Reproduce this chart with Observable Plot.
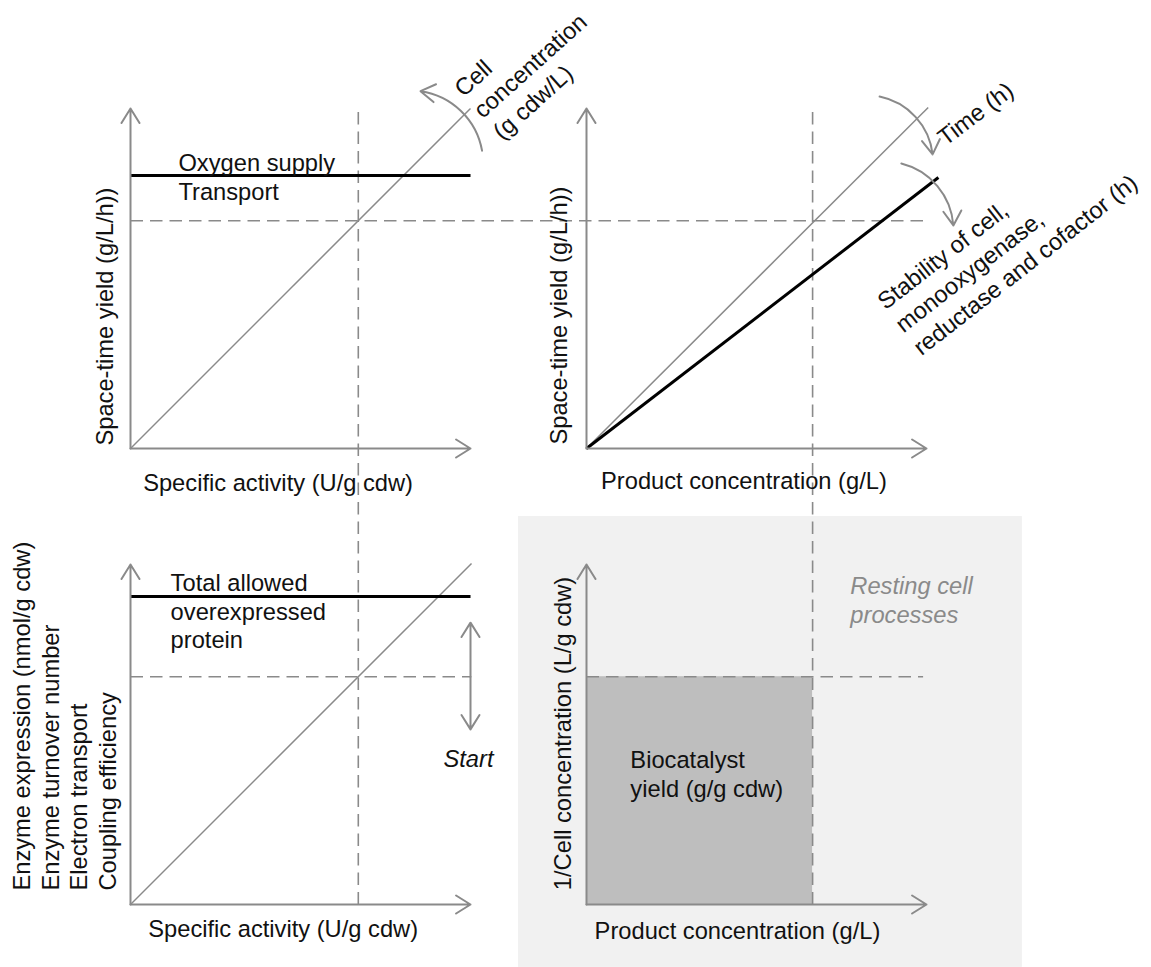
<!DOCTYPE html>
<html>
<head>
<meta charset="utf-8">
<script src="https://cdn.jsdelivr.net/npm/d3@7"></script>
<script src="https://cdn.jsdelivr.net/npm/@observablehq/plot@0.6"></script>
<style>
  html, body { margin: 0; padding: 0; background: #fff; }
</style>
</head>
<body>
<div id="chart"></div>
<script>
// ---- panel layout (2 x 2 facets) ----
const columns = ["left", "right"];
const rows = ["top", "bottom"];
const panelCol = {TL: "left", TR: "right", BL: "left", BR: "right"};
const panelRow = {TL: "top", TR: "top", BL: "bottom", BR: "bottom"};
const panels = ["TL", "TR", "BL", "BR"];

// ---- conceptual values (unit axes, 1 = arrow tip) ----
const axisMax = 1;
const operatingY = 0.67;
const operatingX = {TL: 0.67, TR: 0.665, BL: 0.67, BR: 0.665};

// axis arrows of every panel
const axes = panels.flatMap(p => [
  {panel: p, x1: 0, y1: 0, x2: axisMax, y2: 0},
  {panel: p, x1: 0, y1: 0, x2: 0, y2: axisMax}
]);

// thin gray proportional lines
const diagonals = [
  {panel: "TL", x1: 0, y1: 0, x2: 1.0, y2: 1.0},
  {panel: "TR", x1: 0, y1: 0, x2: 1.005, y2: 1.003},
  {panel: "BL", x1: 0, y1: 0, x2: 1.003, y2: 1.003}
];

// thick black limit lines
const limits = [
  {panel: "TL", x1: 0, y1: 0.803, x2: 1.0, y2: 0.803},
  {panel: "TR", x1: 0, y1: 0, x2: 1.035, y2: 0.797},
  {panel: "BL", x1: 0, y1: 0.906, x2: 1.0, y2: 0.906}
];

// dashed guide lines through the operating point
const guides = [
  {panel: "TL", x1: 0, y1: operatingY, x2: 2.344, y2: operatingY},
  {panel: "BL", x1: operatingX.BL, y1: 0, x2: operatingX.BL, y2: 2.35},
  {panel: "BR", x1: operatingX.BR, y1: 0, x2: operatingX.BR, y2: 2.35},
  {panel: "BL", x1: 0, y1: operatingY, x2: 1.0, y2: operatingY},
  {panel: "BR", x1: 0, y1: operatingY, x2: 0.99, y2: operatingY}
];

// curved arrows
const arcsCounterClockwise = [
  {panel: "TL", x1: 1.034, y1: 0.876, x2: 0.853, y2: 1.051}
];
const arcsClockwise = [
  {panel: "TR", x1: 0.862, y1: 1.035, x2: 1.018, y2: 0.865},
  {panel: "TR", x1: 0.926, y1: 0.838, x2: 1.079, y2: 0.656}
];

// double-headed "Start" range arrow
const startRange = [
  {panel: "BL", x1: 1.0, y1: operatingY, x2: 1.0, y2: 0.829},
  {panel: "BL", x1: 1.0, y1: operatingY, x2: 1.0, y2: 0.515}
];

// shaded areas
const restingRegion = [{panel: "BR", x1: -0.2, x2: 1.282, y1: -0.185, y2: 1.141}];
const biocatalystArea = [{panel: "BR", x1: 0, x2: operatingX.BR, y1: 0, y2: operatingY}];

// ---- texts ----
const xLabels = [
  {panel: "TL", text: "Specific activity (U/g cdw)", x: 0.434, y: -0.124},
  {panel: "TR", text: "Product concentration (g/L)", x: 0.463, y: -0.118},
  {panel: "BL", text: "Specific activity (U/g cdw)", x: 0.449, y: -0.097},
  {panel: "BR", text: "Product concentration (g/L)", x: 0.444, y: -0.100}
];
const yLabels = [
  {panel: "TL", text: "Space-time yield (g/L/h))", x: -0.074, y: 0.388},
  {panel: "TR", text: "Space-time yield (g/L/h))", x: -0.079, y: 0.391},
  {panel: "BR", text: "1/Cell concentration (L/g cdw)", x: -0.068, y: 0.503}
];
const yLabelMulti = [
  {panel: "BL", text: "Enzyme expression (nmol/g cdw)\nEnzyme turnover number\nElectron transport\nCoupling efficiency", x: -0.044, y: 0.041}
];
const notes = [
  {panel: "TL", text: "Oxygen supply\nTransport", x: 0.141, y: 0.732},
  {panel: "BL", text: "Total allowed\noverexpressed\nprotein", x: 0.118, y: 0.753},
  {panel: "BR", text: "Biocatalyst\nyield (g/g cdw)", x: 0.129, y: 0.315}
];
const cellNote = [{panel: "TL", text: "Cell\nconcentration\n(g cdw/L)", x: 1.093, y: 0.905}];
const timeNote = [{panel: "TR", text: "Time (h)", x: 1.056, y: 0.888}];
const stabilityNote = [{panel: "TR", text: "Stability of cell,\nmonooxygenase,\nreductase and cofactor (h)", x: 0.985, y: 0.271}];
const startNote = [{panel: "BL", text: "Start", x: 0.994, y: 0.403}];
const restingNote = [{panel: "BR", text: "Resting cell\nprocesses", x: 0.776, y: 0.829}];

// ---- styles ----
const GRAY = "#8a8a8a";
const INK = "#111111";
const FONT = 23.7;
const F = {fx: d => panelCol[d.panel], fy: d => panelRow[d.panel]};
const seg = {x1: "x1", y1: "y1", x2: "x2", y2: "y2"};
const head = {headLength: 12.75, headAngle: 64};

const chart = Plot.plot({
  width: 1151,
  height: 967,
  marginTop: 108,
  marginBottom: 63,
  marginLeft: 130,
  marginRight: 225,
  facet: {marginTop: 0, marginRight: 0, marginBottom: 0, marginLeft: 0},
  fx: {domain: columns, axis: null, paddingInner: 116 / 456, paddingOuter: 0, round: false},
  fy: {domain: rows, axis: null, paddingInner: 116 / 456, paddingOuter: 0, round: false},
  x: {domain: [0, 1], axis: null},
  y: {domain: [0, 1], axis: null},
  style: {
    fontFamily: "'Liberation Sans', Arial, Helvetica, sans-serif",
    fontSize: FONT + "px",
    background: "#ffffff",
    overflow: "visible"
  },
  marks: [
    Plot.rect(restingRegion, {...F, ...seg, fill: "#f1f1f1"}),
    Plot.rect(biocatalystArea, {...F, ...seg, fill: "#bebebe"}),
    Plot.link(guides, {...F, ...seg, stroke: GRAY, strokeWidth: 1.6, strokeDasharray: "12.5,7"}),
    Plot.link(diagonals, {...F, ...seg, stroke: GRAY, strokeWidth: 1.5}),
    Plot.link(limits, {...F, ...seg, stroke: "#000", strokeWidth: 3}),
    Plot.arrow(axes, {...F, ...seg, ...head, stroke: GRAY, strokeWidth: 2}),
    Plot.arrow(arcsCounterClockwise, {...F, ...seg, ...head, bend: -36, stroke: GRAY, strokeWidth: 2}),
    Plot.arrow(arcsClockwise, {...F, ...seg, ...head, bend: 36, stroke: GRAY, strokeWidth: 2}),
    Plot.arrow(startRange, {...F, ...seg, ...head, stroke: GRAY, strokeWidth: 2}),

    Plot.text(xLabels, {...F, x: "x", y: "y", text: "text", textAnchor: "middle", lineAnchor: "bottom", fill: INK}),
    Plot.text(yLabels, {...F, x: "x", y: "y", text: "text", rotate: -90, textAnchor: "middle", lineAnchor: "middle", fill: INK}),
    Plot.text(yLabelMulti, {...F, x: "x", y: "y", text: "text", rotate: -90, textAnchor: "start", lineAnchor: "bottom", lineHeight: 1.2, fill: INK}),
    Plot.text(notes, {...F, x: "x", y: "y", text: "text", textAnchor: "start", lineAnchor: "bottom", lineHeight: 1.22, fill: INK}),
    Plot.text(cellNote, {...F, x: "x", y: "y", text: "text", rotate: -42, textAnchor: "start", lineAnchor: "bottom", lineHeight: 1.22, fill: INK}),
    Plot.text(timeNote, {...F, x: "x", y: "y", text: "text", rotate: -37, textAnchor: "start", lineAnchor: "bottom", fill: INK}),
    Plot.text(stabilityNote, {...F, x: "x", y: "y", text: "text", rotate: -38, textAnchor: "start", lineAnchor: "bottom", lineHeight: 1.23, fill: INK}),
    Plot.text(startNote, {...F, x: "x", y: "y", text: "text", textAnchor: "middle", lineAnchor: "bottom", fontStyle: "italic", fill: INK}),
    Plot.text(restingNote, {...F, x: "x", y: "y", text: "text", textAnchor: "start", lineAnchor: "bottom", lineHeight: 1.22, fontStyle: "italic", fill: GRAY})
  ]
});

document.getElementById("chart").appendChild(chart);
</script>
</body>
</html>
